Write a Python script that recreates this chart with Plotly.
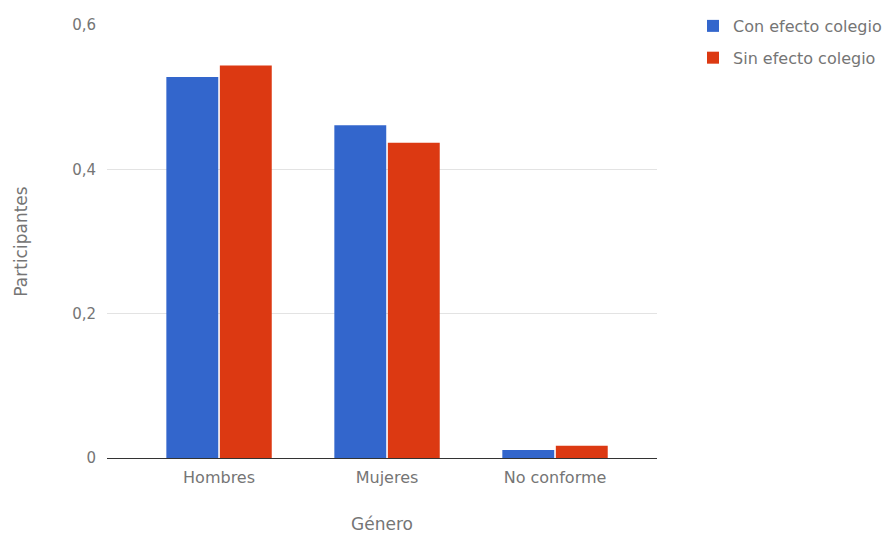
import plotly.graph_objects as go

# Participation share by gender, with and without the school effect
categories = ["Hombres", "Mujeres", "No conforme"]
con_efecto = [0.528, 0.461, 0.011]
sin_efecto = [0.544, 0.437, 0.017]
series_names = ["Con efecto colegio", "Sin efecto colegio"]
y_tick_values = [0, 0.2, 0.4, 0.6]
y_tick_labels = ["0", "0,2", "0,4", "0,6"]

BLUE = "#3366cc"
RED = "#dc3912"
FONT = "DejaVu Sans"
TEXT = "#757575"

fig = go.Figure()
fig.add_trace(go.Bar(x=categories, y=con_efecto, name=series_names[0],
                     marker=dict(color=BLUE, line=dict(width=0)),
                     legendgroup="a"))
fig.add_trace(go.Bar(x=categories, y=sin_efecto, name=series_names[1],
                     marker=dict(color=RED, line=dict(width=0)),
                     legendgroup="b"))

fig.update_layout(
    width=892, height=537,
    margin=dict(l=107, r=235, t=25, b=79, autoexpand=False),
    paper_bgcolor="white", plot_bgcolor="white",
    barmode="group", bargap=0.363, bargroupgap=0.03,
    font=dict(family=FONT, size=16, color=TEXT),
    legend=dict(x=1.0655, y=1.037, xanchor="left", yanchor="top",
                font=dict(family=FONT, size=16, color=TEXT),
                tracegroupgap=8, itemwidth=30, bgcolor="rgba(0,0,0,0)"),
    xaxis=dict(
        type="category", range=[-0.667, 2.607], automargin=False,
        showgrid=False, showline=True, linecolor="#333333", linewidth=1,
        ticks="", ticklabelstandoff=5, zeroline=False,
        tickfont=dict(family=FONT, size=16, color=TEXT),
        title=dict(text="Género", standoff=31,
                   font=dict(family=FONT, size=17, color=TEXT)),
    ),
    yaxis=dict(
        range=[0, 0.6], tickvals=y_tick_values, ticktext=y_tick_labels,
        automargin=False,
        showgrid=True, gridcolor="#e3e3e3", gridwidth=1,
        zeroline=False, showline=False, ticks="", ticklabelstandoff=10,
        tickfont=dict(family=FONT, size=15, color=TEXT),
        title=dict(text="Participantes", standoff=40,
                   font=dict(family=FONT, size=17, color=TEXT)),
    ),
)

fig.write_html("out.html")
